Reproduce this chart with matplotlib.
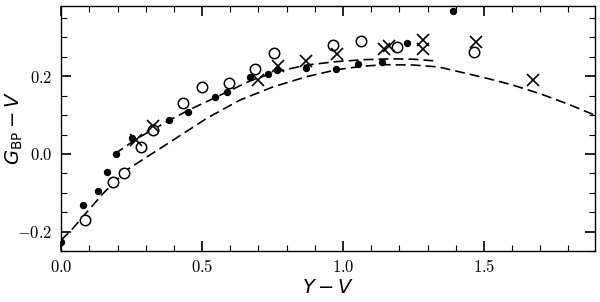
import matplotlib
matplotlib.use("Agg")
import matplotlib.pyplot as plt
from matplotlib.ticker import MultipleLocator, FuncFormatter

plt.rcParams["mathtext.fontset"] = "cm"
plt.rcParams["font.family"] = "serif"
plt.rcParams["font.serif"] = ["DejaVu Serif"]

# filled dots
dot_x = [0.0, 0.079, 0.132, 0.162, 0.193, 0.251, 0.383, 0.451, 0.546, 0.590,
         0.670, 0.735, 0.767, 0.869, 0.975, 1.055, 1.14, 1.226, 1.391]
dot_y = [-0.227, -0.131, -0.095, -0.047, 0.0, 0.040, 0.088, 0.109, 0.146, 0.159,
         0.198, 0.206, 0.217, 0.221, 0.219, 0.232, 0.237, 0.285, 0.369]

# open circles
circ_x = [0.085, 0.183, 0.223, 0.283, 0.325, 0.431, 0.499, 0.597, 0.686, 0.755,
          0.965, 1.065, 1.193, 1.466]
circ_y = [-0.170, -0.073, -0.050, 0.019, 0.062, 0.131, 0.172, 0.182, 0.220, 0.259,
          0.280, 0.291, 0.276, 0.262]

# crosses
cross_x = [0.266, 0.325, 0.700, 0.771, 0.869, 0.978, 1.145, 1.165, 1.283, 1.285,
           1.472, 1.673]
cross_y = [0.036, 0.072, 0.191, 0.227, 0.240, 0.257, 0.270, 0.278, 0.293, 0.270,
           0.289, 0.191]

# dashed relations
up_x = [0.19, 0.27, 0.387, 0.45, 0.546, 0.67, 0.76, 0.87, 0.98, 1.08, 1.17, 1.25, 1.32]
up_y = [0.0, 0.040, 0.088, 0.112, 0.145, 0.188, 0.211, 0.229, 0.238, 0.243, 0.245, 0.244, 0.240]

low_x = [0.0, 0.04, 0.085, 0.15, 0.233, 0.31, 0.398, 0.517, 0.635, 0.753, 0.871,
         0.978, 1.07, 1.15, 1.25, 1.34, 1.41, 1.51, 1.6, 1.7, 1.8, 1.9]
low_y = [-0.222, -0.193, -0.155, -0.101, -0.041, -0.005, 0.036, 0.092, 0.139, 0.173,
         0.199, 0.217, 0.226, 0.230, 0.229, 0.224, 0.212, 0.195, 0.178, 0.155, 0.128, 0.098]

fig = plt.figure(figsize=(6.0, 3.02), dpi=100)
ax = fig.add_axes([0.102, 0.169, 0.890, 0.811])

dash = dict(color="black", lw=1.2, linestyle=(0, (6, 3)))
ax.plot(low_x, low_y, **dash)
ax.plot(up_x, up_y, **dash)

ax.plot(dot_x, dot_y, "o", color="black", ms=4.3, mec="black")
ax.plot(circ_x, circ_y, "o", mfc="white", mec="black", ms=7.5, mew=1.1)
ax.plot(cross_x, cross_y, "x", color="black", ms=8.5, mew=1.2)

ax.set_xlim(0, 1.895)
ax.set_ylim(-0.25, 0.381)

ax.xaxis.set_major_locator(MultipleLocator(0.5))
ax.xaxis.set_minor_locator(MultipleLocator(0.1))
ax.yaxis.set_major_locator(MultipleLocator(0.2))
ax.yaxis.set_minor_locator(MultipleLocator(0.05))

fmt = FuncFormatter(lambda v, p: "$%.1f$" % (0.0 if abs(v) < 1e-9 else v))
ax.xaxis.set_major_formatter(fmt)
ax.yaxis.set_major_formatter(fmt)

ax.tick_params(which="both", direction="in", top=True, right=True, labelsize=12, pad=6)
ax.tick_params(which="major", length=7, width=1.2)
ax.tick_params(which="minor", length=4, width=0.8)
for s in ax.spines.values():
    s.set_linewidth(1.0)

ax.set_xlabel("$Y-V$", fontsize=14, math_fontfamily="dejavusans")
ax.set_ylabel(r"$G_{\rm BP}-V$", fontsize=14, math_fontfamily="dejavusans")
ax.xaxis.set_label_coords(0.5, -0.115)
ax.yaxis.set_label_coords(-0.068, 0.5)

fig.savefig("out.png", dpi=100)
